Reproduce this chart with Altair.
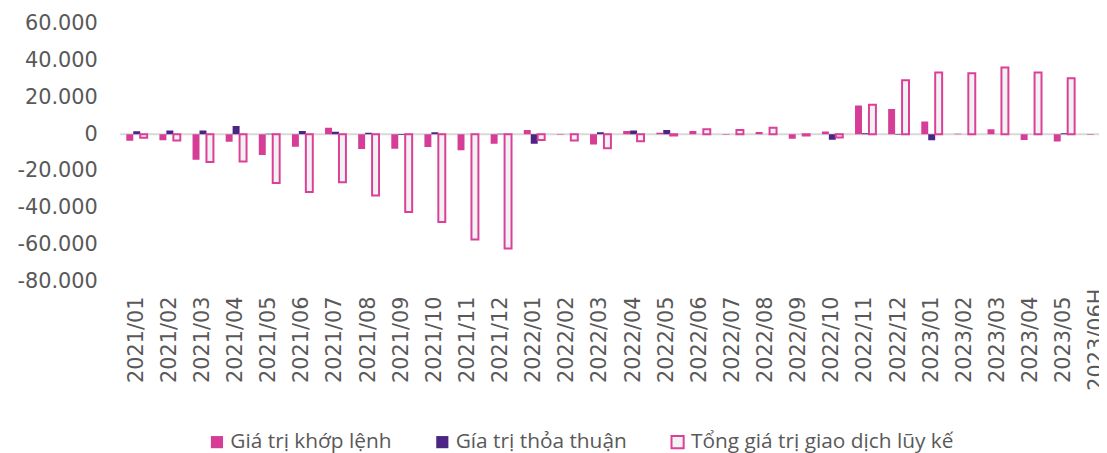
import altair as alt
import pandas as pd

categories = [
    "2021/01", "2021/02", "2021/03", "2021/04", "2021/05", "2021/06",
    "2021/07", "2021/08", "2021/09", "2021/10", "2021/11", "2021/12",
    "2022/01", "2022/02", "2022/03", "2022/04", "2022/05", "2022/06",
    "2022/07", "2022/08", "2022/09", "2022/10", "2022/11", "2022/12",
    "2023/01", "2023/02", "2023/03", "2023/04", "2023/05", "2023/06H",
]

khop_lenh = [
    -3600, -3300, -13900, -4100, -11300, -6800,
    3400, -8000, -7900, -7000, -8800, -5200,
    2200, -300, -5600, 1700, 800, 1700,
    -300, 1100, -2500, 1400, 15500, 13700,
    6900, 200, 2700, -3200, -4000, -300,
]

thoa_thuan = [
    1600, 2000, 2000, 4400, 200, 1700,
    1300, 700, -500, 1000, 0, 200,
    -5200, 0, 1000, 2000, 2300, 0,
    0, 0, 0, -3000, 500, -300,
    -3300, 0, 0, 0, 500, 0,
]

tong_luy_ke = [
    -2000, -3400, -15100, -14900, -26500, -31400,
    -26100, -33300, -42200, -47700, -57100, -62000,
    -3200, -3400, -7700, -3800, -800, 2600,
    2200, 3400, -700, -1800, 16000, 29200,
    33400, 33000, 36200, 33400, 30300, 30000,
]

series_names = [
    "Giá trị khớp lệnh",
    "Gía trị thỏa thuận",
    "Tổng giá trị giao dịch lũy kế",
]

y_ticks = [-80000, -60000, -40000, -20000, 0, 20000, 40000, 60000]

rows = []
for name, vals in zip(series_names, [khop_lenh, thoa_thuan, tong_luy_ke]):
    for c, v in zip(categories, vals):
        rows.append({"cat": c, "series": name, "value": v})
df = pd.DataFrame(rows)

AXFONT = "DejaVu Sans"
LGFONT = "Open Sans"
TXT = "#595959"

legend_cfg = dict(
    title=None, orient="none", legendX=87, legendY=411,
    direction="horizontal", symbolType="square", symbolSize=150,
    symbolStrokeWidth=2, labelFontSize=21, labelColor=TXT,
    labelFont=LGFONT, columnPadding=40, labelOffset=3, labelLimit=600,
)

y_axis = alt.Axis(
    title=None, domain=False, ticks=False, grid=False,
    values=y_ticks, labelOverlap=False,
    labelExpr="datum.value == 0 ? '0' : (datum.value < 0 ? '-' : '') + floor(abs(datum.value) / 1000) + '.000'",
    labelFontSize=21, labelColor=TXT, labelFont=AXFONT, labelPadding=23,
)
y_scale = alt.Scale(domain=[-80000, 60000], nice=False, zero=False)

bars = alt.Chart(df).mark_bar(strokeWidth=2, clip=True).encode(
    x=alt.X(
        "cat:N",
        sort=categories,
        scale=alt.Scale(domain=categories, range=[0, 1001],
                        paddingInner=0.37, paddingOuter=0.185),
        axis=alt.Axis(
            title=None, domain=False, ticks=False, grid=False,
            labelAngle=-90, labelAlign="center", labelBaseline="middle",
            labelPadding=58, labelFontSize=21, labelColor=TXT, labelFont=AXFONT,
            labelOverlap=False, labelBound=False,
        ),
    ),
    xOffset=alt.XOffset(
        "series:N", sort=series_names,
        scale=alt.Scale(domain=series_names, paddingInner=0, paddingOuter=0),
    ),
    y=alt.Y("value:Q", scale=y_scale, axis=y_axis),
    fill=alt.Fill(
        "series:N",
        sort=series_names,
        scale=alt.Scale(domain=series_names, range=["#D63D97", "#4B2583", "#F2F2F2"]),
        legend=alt.Legend(**legend_cfg),
    ),
    stroke=alt.Stroke(
        "series:N",
        sort=series_names,
        scale=alt.Scale(domain=series_names, range=["transparent", "transparent", "#DB3F98"]),
        legend=alt.Legend(**legend_cfg),
    ),
)

zero_line = alt.Chart(pd.DataFrame({"value": [0]})).mark_rule(
    color="#D9D9D9", strokeWidth=2
).encode(y=alt.Y("value:Q", scale=y_scale, axis=y_axis))

chart = alt.layer(zero_line, bars).properties(
    width=986,
    height=260,
    padding={"left": 113, "top": 14, "right": 0, "bottom": 171},
    autosize=alt.AutoSizeParams(type="none"),
).configure(font=LGFONT).configure_axisY(labelOverlap=False).configure_view(
    stroke=None, strokeWidth=0
)

chart.save("out.html", embed_options={"renderer": "svg", "actions": False})
